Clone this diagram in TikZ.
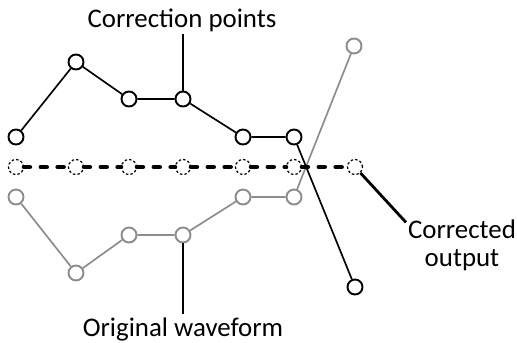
\documentclass[tikz,border=0pt]{standalone}
\usepackage{fontspec}
\setmainfont{Carlito}
\usepackage{tikz}
\usetikzlibrary{positioning}
\definecolor{wavegray}{RGB}{140,140,140}

\begin{document}
\begin{tikzpicture}[
  x=0.02cm, y=-0.02cm,
  pt/.style={draw, circle, line width=1.1pt, fill=white, minimum size=0.3cm, inner sep=0pt},
  ptgray/.style={pt, draw=wavegray},
  ptdash/.style={pt, line width=0.7pt, dash pattern=on 1.4pt off 1.2pt},
  seg/.style={line width=0.95pt},
  seggray/.style={seg, draw=wavegray},
  outdash/.style={line width=2.8pt, line cap=round, dash pattern=on 3.2pt off 6.4pt},
  callout/.style={line width=1.6pt},
  lbl/.style={font=\fontsize{15.3}{16}\selectfont, align=center, inner sep=1pt},
]
  \useasboundingbox (0,0) rectangle (517,342);

  % correction points
  \node[pt] (c1) at (16,137) {};
  \node[pt] (c2) at (76,62) {};
  \node[pt] (c3) at (129,99) {};
  \node[pt] (c4) at (183,99) {};
  \node[pt] (c5) at (243,137) {};
  \node[pt] (c6) at (294,137) {};
  \node[pt] (c7) at (355,287) {};

  % original waveform
  \node[ptgray] (w1) at (16,197) {};
  \node[ptgray] (w2) at (76,273) {};
  \node[ptgray] (w3) at (129,235) {};
  \node[ptgray] (w4) at (183,235) {};
  \node[ptgray] (w5) at (243,197) {};
  \node[ptgray] (w6) at (294,197) {};
  \node[ptgray] (w7) at (354,46) {};

  % corrected output
  \node[ptdash] (o1) at (16,167) {};
  \node[ptdash] (o2) at (76,167) {};
  \node[ptdash] (o3) at (129,167) {};
  \node[ptdash] (o4) at (183,167) {};
  \node[ptdash] (o5) at (243,167) {};
  \node[ptdash] (o6) at (294,167) {};
  \node[ptdash] (o7) at (355,167) {};

  \node[lbl] (cpts) at (182,20.5) {Correction points};
  \node[lbl, inner sep=2pt] (orig) at (183,329) {Original waveform};
  \node[lbl] (corr) at (462,245) {Corrected\\output};

  \draw[seggray] (w1) -- (w2) -- (w3) -- (w4) -- (w5) -- (w6) -- (w7);
  \draw[seg] (c1) -- (c2) -- (c3) -- (c4) -- (c5) -- (c6) -- (c7);
  \draw[outdash] (o1) -- (o2) -- (o3) -- (o4) -- (o5) -- (o6) -- (o7);

  \draw[callout] (c4) -- (c4 |- cpts.south);
  \draw[callout] (w4) -- (w4 |- orig.north);
  \draw[callout] (o7) -- (corr.158);
\end{tikzpicture}
\end{document}
